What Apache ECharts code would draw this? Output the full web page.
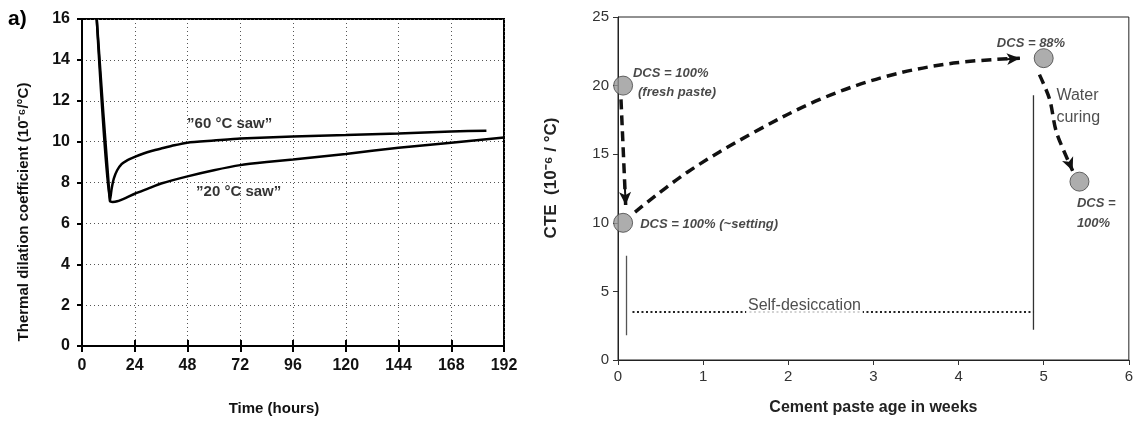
<!DOCTYPE html>
<html>
<head>
<meta charset="utf-8">
<script src="https://cdn.jsdelivr.net/npm/echarts@6/dist/echarts.min.js"></script>
<style>
  html, body { margin: 0; padding: 0; background: #fff; }
  #chart { width: 1136px; height: 421px; }
</style>
</head>
<body>
<div id="chart"></div>
<script>
// ---- Panel a): thermal dilation coefficient vs time ----
const hoursTicks = [0, 24, 48, 72, 96, 120, 144, 168, 192];
const hours60 = [6.7, 12.7, 13.5, 14.5, 16, 18, 20, 24, 28, 32, 36, 42, 48, 60, 72, 96, 120, 144, 168, 184];
const tdc60   = [16, 7.1, 7.7, 8.2, 8.6, 8.9, 9.05, 9.25, 9.42, 9.55, 9.66, 9.82, 9.95, 10.05, 10.15, 10.25, 10.32, 10.4, 10.5, 10.53];
const hours20 = [6.7, 12.7, 14, 16, 20, 24, 30, 36, 48, 60, 72, 84, 96, 120, 144, 168, 192];
const tdc20   = [16, 7.1, 7.05, 7.08, 7.25, 7.45, 7.7, 7.95, 8.3, 8.6, 8.85, 9.0, 9.12, 9.4, 9.7, 9.95, 10.2];
const curveNames = ['\u201D60 \u00B0C saw\u201D', '\u201D20 \u00B0C saw\u201D'];
const curveNameX = [47.8, 51.9];
const curveNameY = [10.86, 7.52];

// ---- Panel b): CTE vs cement paste age ----
const stateWeeks = [0.06, 0.06, 5.0, 5.42];
const stateCTE   = [20, 10, 22, 13];
const settingWeeks = [0.035, 0.09];
const settingCTE   = [19.0, 11.3];
const dryingWeeks = [0.2, 0.81, 1.59, 2.37, 3.15, 3.94, 4.72];
const dryingCTE   = [10.78, 13.67, 16.57, 18.99, 20.67, 21.64, 22.0];
const curingWeeks = [4.95, 5.07, 5.15, 5.34];
const curingCTE   = [20.8, 19.0, 16.6, 13.8];
const bracketLeftWeeks = [0.1, 0.1];
const bracketLeftCTE   = [1.8, 7.6];
const bracketRightWeeks = [4.88, 4.88];
const bracketRightCTE   = [2.2, 19.3];
const desiccWeeks = [0.17, 4.88];
const desiccCTE   = [3.5, 3.5];
const noteText  = ['DCS = 100%', '(fresh paste)', 'DCS = 100% (~setting)', 'DCS = 88%', 'DCS =', '100%'];
const noteWeeks = [0.176, 0.235, 0.26, 4.45, 5.39, 5.39];
const noteCTE   = [20.87, 19.5, 9.86, 23.1, 11.38, 9.93];
const plainText  = ['Water', 'curing'];
const plainWeeks = [5.15, 5.15];
const plainCTE   = [19.28, 17.7];
const desiccLabel = 'Self-desiccation';
const desiccLabelAt = [2.19, 4.0];

const zip = (xs, ys) => xs.map((x, i) => [x, ys[i]]);

const narrow = "'Liberation Sans Narrow', 'Liberation Sans', Arial, sans-serif";
const sans = "'Liberation Sans', Arial, sans-serif";

// arrowhead segment pointing along the final stretch of a path
function arrowHead(xs, ys) {
  const n = xs.length;
  const tip = [xs[n - 1], ys[n - 1]];
  const prev = [xs[n - 2], ys[n - 2]];
  const f = 0.2;
  const tail = [tip[0] - f * (tip[0] - prev[0]), tip[1] - f * (tip[1] - prev[1])];
  return {
    silent: true,
    symbol: ['none', 'arrow'],
    symbolSize: [9, 13],
    lineStyle: { type: 'solid', width: 2, color: '#111' },
    label: { show: false },
    data: [[{ coord: tail }, { coord: tip }]]
  };
}

const dashed = { color: '#111', width: 3.5, type: [10, 6] };

const chart = echarts.init(document.getElementById('chart'));
chart.setOption({
  animation: false,
  backgroundColor: '#fff',
  grid: [
    { left: 82, top: 19, width: 422, height: 336, show: true, borderColor: '#000', borderWidth: 2 },
    { left: 618, top: 17, width: 511, height: 345, show: true, borderColor: '#222', borderWidth: 1 }
  ],
  xAxis: [
    {
      gridIndex: 0, type: 'value', min: 0, max: 192, interval: 24,
      axisLine: { lineStyle: { color: '#000', width: 2 } },
      axisTick: { length: 6, lineStyle: { color: '#000', width: 2 } },
      axisLabel: {
        color: '#111', fontFamily: narrow, fontWeight: 'bold', fontSize: 16, margin: 12,
        formatter: v => hoursTicks.includes(v) ? String(v) : ''
      },
      splitLine: { show: true, lineStyle: { color: '#555', width: 1, type: [1, 3] } },
      name: 'Time (hours)', nameLocation: 'middle', nameGap: 55,
      nameTextStyle: { color: '#111', fontFamily: narrow, fontWeight: 'bold', fontSize: 15, padding: [0, 38, 0, 0] }
    },
    {
      gridIndex: 0, type: 'value', min: 0, max: 192, interval: 24, position: 'bottom',
      axisLine: { show: false },
      axisTick: { show: true, inside: true, length: 6, lineStyle: { color: '#000', width: 2 } },
      axisLabel: { show: false }, splitLine: { show: false }
    },
    {
      gridIndex: 1, type: 'value', min: 0, max: 6, interval: 1,
      axisLine: { lineStyle: { color: '#222', width: 1 } },
      axisTick: { length: 5, lineStyle: { color: '#333' } },
      axisLabel: { color: '#333', fontFamily: sans, fontSize: 15, margin: 9 },
      splitLine: { show: false },
      name: 'Cement paste age in weeks', nameLocation: 'middle', nameGap: 40,
      nameTextStyle: { color: '#222', fontFamily: sans, fontWeight: 'bold', fontSize: 16 }
    }
  ],
  yAxis: [
    {
      gridIndex: 0, type: 'value', min: 0, max: 16, interval: 2,
      axisLine: { lineStyle: { color: '#000', width: 2 } },
      axisTick: { length: 5, lineStyle: { color: '#000', width: 2 } },
      axisLabel: { color: '#111', fontFamily: narrow, fontWeight: 'bold', fontSize: 16, margin: 12 },
      splitLine: { show: true, lineStyle: { color: '#555', width: 1, type: [1, 3] } }
    },
    {
      gridIndex: 1, type: 'value', min: 0, max: 25, interval: 5,
      axisLine: { lineStyle: { color: '#222', width: 1 } },
      axisTick: { length: 5, lineStyle: { color: '#333' } },
      axisLabel: { color: '#333', fontFamily: sans, fontSize: 15, margin: 9 },
      splitLine: { show: false }
    }
  ],
  graphic: [
    {
      type: 'text', left: 8, top: 9,
      style: { text: 'a)', fill: '#000', font: "bold 21px 'Liberation Sans', Arial, sans-serif" }
    },
    {
      type: 'text', x: 24, y: 212, rotation: Math.PI / 2,
      style: {
        text: 'Thermal dilation coefficient (10\u207B\u2076/\u00B0C)', fill: '#111',
        font: "bold 15px " + narrow, align: 'center', verticalAlign: 'middle'
      }
    },
    {
      type: 'text', x: 551, y: 178, rotation: Math.PI / 2,
      style: {
        text: 'CTE  (10\u207B\u2076 / \u00B0C)', fill: '#222',
        font: "bold 17px " + sans, align: 'center', verticalAlign: 'middle'
      }
    }
  ],
  series: [
    // panel a) curves
    {
      type: 'line', xAxisIndex: 0, yAxisIndex: 0, data: zip(hours60, tdc60),
      smooth: 0.2, symbol: 'none', lineStyle: { color: '#000', width: 2.5 }, z: 3
    },
    {
      type: 'line', xAxisIndex: 0, yAxisIndex: 0, data: zip(hours20, tdc20),
      smooth: 0.2, symbol: 'none', lineStyle: { color: '#000', width: 2.5 }, z: 3
    },
    {
      type: 'scatter', xAxisIndex: 0, yAxisIndex: 0, symbolSize: 0, silent: true, z: 4,
      data: curveNames.map((t, i) => ({ value: [curveNameX[i], curveNameY[i]], name: t })),
      label: {
        show: true, position: [0, 0], align: 'left', verticalAlign: 'middle',
        formatter: p => p.name, color: '#000', fontFamily: narrow, fontWeight: 'bold', fontSize: 15
      }
    },
    // panel b) brackets and self-desiccation span
    {
      type: 'line', xAxisIndex: 2, yAxisIndex: 1, data: zip(bracketLeftWeeks, bracketLeftCTE),
      symbol: 'none', lineStyle: { color: '#555', width: 1.3 }, silent: true
    },
    {
      type: 'line', xAxisIndex: 2, yAxisIndex: 1, data: zip(bracketRightWeeks, bracketRightCTE),
      symbol: 'none', lineStyle: { color: '#333', width: 1.3 }, silent: true
    },
    {
      type: 'line', xAxisIndex: 2, yAxisIndex: 1, data: zip(desiccWeeks, desiccCTE),
      symbol: 'none', lineStyle: { color: '#222', width: 2, type: [2, 2.5] }, silent: true
    },
    {
      type: 'scatter', xAxisIndex: 2, yAxisIndex: 1, symbolSize: 0, silent: true, z: 5,
      data: [{ value: desiccLabelAt, name: desiccLabel }],
      label: {
        show: true, position: [0, 0], align: 'center', verticalAlign: 'middle',
        formatter: p => p.name, color: '#222', fontFamily: sans, fontSize: 16,
        backgroundColor: '#fff', padding: [0, 2, 3, 2]
      }
    },
    // panel b) transitions
    {
      type: 'line', xAxisIndex: 2, yAxisIndex: 1, data: zip(settingWeeks, settingCTE),
      symbol: 'none', lineStyle: dashed, markLine: arrowHead(settingWeeks, settingCTE), z: 3
    },
    {
      type: 'line', xAxisIndex: 2, yAxisIndex: 1, data: zip(dryingWeeks, dryingCTE),
      smooth: 0.35, symbol: 'none', lineStyle: dashed,
      markLine: arrowHead(dryingWeeks, dryingCTE), z: 3
    },
    {
      type: 'line', xAxisIndex: 2, yAxisIndex: 1, data: zip(curingWeeks, curingCTE),
      smooth: 0.3, symbol: 'none', lineStyle: dashed, markLine: arrowHead(curingWeeks, curingCTE), z: 3
    },
    // panel b) states
    {
      type: 'scatter', xAxisIndex: 2, yAxisIndex: 1, data: zip(stateWeeks, stateCTE),
      symbol: 'circle', symbolSize: 19,
      itemStyle: { color: '#999', borderColor: '#444', borderWidth: 1 }, z: 4
    },
    {
      type: 'scatter', xAxisIndex: 2, yAxisIndex: 1, symbolSize: 0, silent: true, z: 5,
      data: noteText.map((t, i) => ({ value: [noteWeeks[i], noteCTE[i]], name: t })),
      label: {
        show: true, position: [0, 0], align: 'left', verticalAlign: 'middle',
        formatter: p => p.name, color: '#1a1a1a', fontFamily: sans, fontWeight: 'bold',
        fontStyle: 'italic', fontSize: 13
      }
    },
    {
      type: 'scatter', xAxisIndex: 2, yAxisIndex: 1, symbolSize: 0, silent: true, z: 5,
      data: plainText.map((t, i) => ({ value: [plainWeeks[i], plainCTE[i]], name: t })),
      label: {
        show: true, position: [0, 0], align: 'left', verticalAlign: 'middle',
        formatter: p => p.name, color: '#222', fontFamily: sans, fontSize: 16
      }
    }
  ]
});
</script>
</body>
</html>
